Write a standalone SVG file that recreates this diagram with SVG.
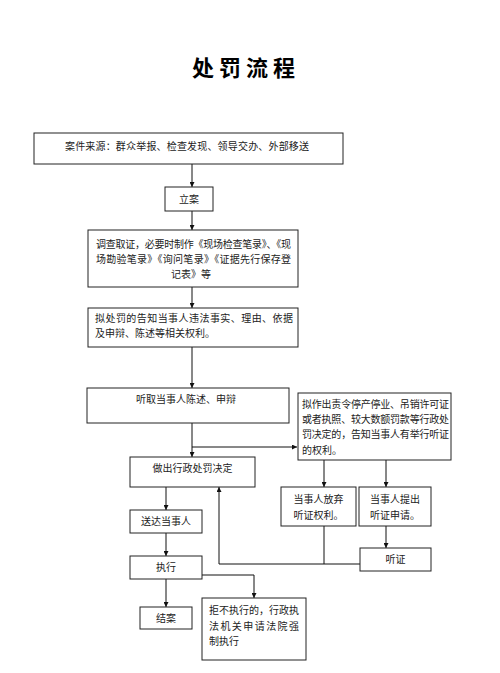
<svg xmlns="http://www.w3.org/2000/svg" width="500" height="673" viewBox="0 0 500 673">
<defs>
<marker id="ah" viewBox="0 0 10 10" refX="10" refY="5" markerWidth="5" markerHeight="5" orient="auto" markerUnits="userSpaceOnUse">
<path d="M0,0 L10,5 L0,10 z" fill="#111"/>
</marker>
<style>
.box{fill:#fff;stroke:#222;stroke-width:1}
.t{font-family:"Noto Sans CJK SC","Noto Sans",sans-serif;font-size:10px;fill:#222}
.m{text-anchor:middle}
.c{fill:none;stroke:#111;stroke-width:1}
.a{marker-end:url(#ah)}
.title{font-family:"Noto Sans CJK SC","Noto Sans",sans-serif;font-size:22px;font-weight:bold;fill:#000;letter-spacing:5px}
</style>
</defs>
<rect width="500" height="673" fill="#fff"/>
<text class="title m" x="246" y="76">处罚流程</text>

<g id="connectors">
<path class="c a" d="M192,164 V187"/>
<path class="c a" d="M192,211 V230"/>
<path class="c a" d="M192,287 V308"/>
<path class="c a" d="M192,347 V388"/>
<path class="c a" d="M192,423 V457"/>
<path class="c a" d="M192,447 H297"/>
<path class="c a" d="M324,460 V487"/>
<path class="c a" d="M386,460 V487"/>
<path class="c a" d="M386,526 V548"/>
<path class="c" d="M324,526 V564"/>
<path class="c a" d="M360,564 H219 V487"/>
<path class="c a" d="M166,487 V510"/>
<path class="c a" d="M166,533 V556"/>
<path class="c a" d="M166,579 V607"/>
<path class="c a" d="M202,575 H254 V598"/>
</g>

<g id="n1"><rect class="box" x="34" y="133" width="309" height="31"/>
<text class="t m" x="187" y="150" textLength="244">案件来源：群众举报、检查发现、领导交办、外部移送</text></g>

<g id="n2"><rect class="box" x="165" y="187" width="48" height="24"/>
<text class="t m" x="189" y="203">立案</text></g>

<g id="n3"><rect class="box" x="88" y="230" width="210" height="57"/>
<text class="t m" x="193.5" y="248" textLength="195">调查取证，必要时制作《现场检查笔录》、《现</text>
<text class="t m" x="193.5" y="263" textLength="195">场勘验笔录》《询问笔录》《证据先行保存登</text>
<text class="t m" x="191" y="278">记表》等</text></g>

<g id="n4"><rect class="box" x="88" y="308" width="210" height="39"/>
<text class="t" x="95" y="322" textLength="198">拟处罚的告知当事人违法事实、理由、依据</text>
<text class="t" x="95" y="337">及申辩、陈述等相关权利。</text></g>

<g id="n5"><rect class="box" x="87" y="388" width="202" height="35"/>
<text class="t m" x="186" y="403">听取当事人陈述、申辩</text></g>

<g id="n6"><rect class="box" x="298" y="393" width="153" height="67"/>
<text class="t" x="302" y="408" textLength="147">拟作出责令停产停业、吊销许可证</text>
<text class="t" x="302" y="423" textLength="147">或者执照、较大数额罚款等行政处</text>
<text class="t" x="302" y="438" textLength="147">罚决定的，告知当事人有举行听证</text>
<text class="t" x="302" y="454">的权利。</text></g>

<g id="n7"><rect class="box" x="130" y="457" width="125" height="30"/>
<text class="t m" x="192.5" y="472">做出行政处罚决定</text></g>

<g id="n8"><rect class="box" x="281" y="487" width="75" height="39"/>
<text class="t m" x="318.5" y="503">当事人放弃</text>
<text class="t m" x="318.5" y="519">听证权利。</text></g>

<g id="n9"><rect class="box" x="359" y="487" width="72" height="39"/>
<text class="t m" x="395" y="503">当事人提出</text>
<text class="t m" x="395" y="519">听证申请。</text></g>

<g id="n10"><rect class="box" x="360" y="548" width="71" height="23"/>
<text class="t m" x="395.5" y="563">听证</text></g>

<g id="n11"><rect class="box" x="130" y="510" width="72" height="23"/>
<text class="t m" x="166" y="525">送达当事人</text></g>

<g id="n12"><rect class="box" x="130" y="556" width="72" height="23"/>
<text class="t m" x="166" y="571">执行</text></g>

<g id="n13"><rect class="box" x="140" y="607" width="52" height="22"/>
<text class="t m" x="166" y="622">结案</text></g>

<g id="n14"><rect class="box" x="202" y="598" width="104" height="62"/>
<text class="t" x="209" y="614" textLength="90">拒不执行的，行政执</text>
<text class="t" x="209" y="630" textLength="90">法机关申请法院强</text>
<text class="t" x="209" y="645">制执行</text></g>
</svg>
